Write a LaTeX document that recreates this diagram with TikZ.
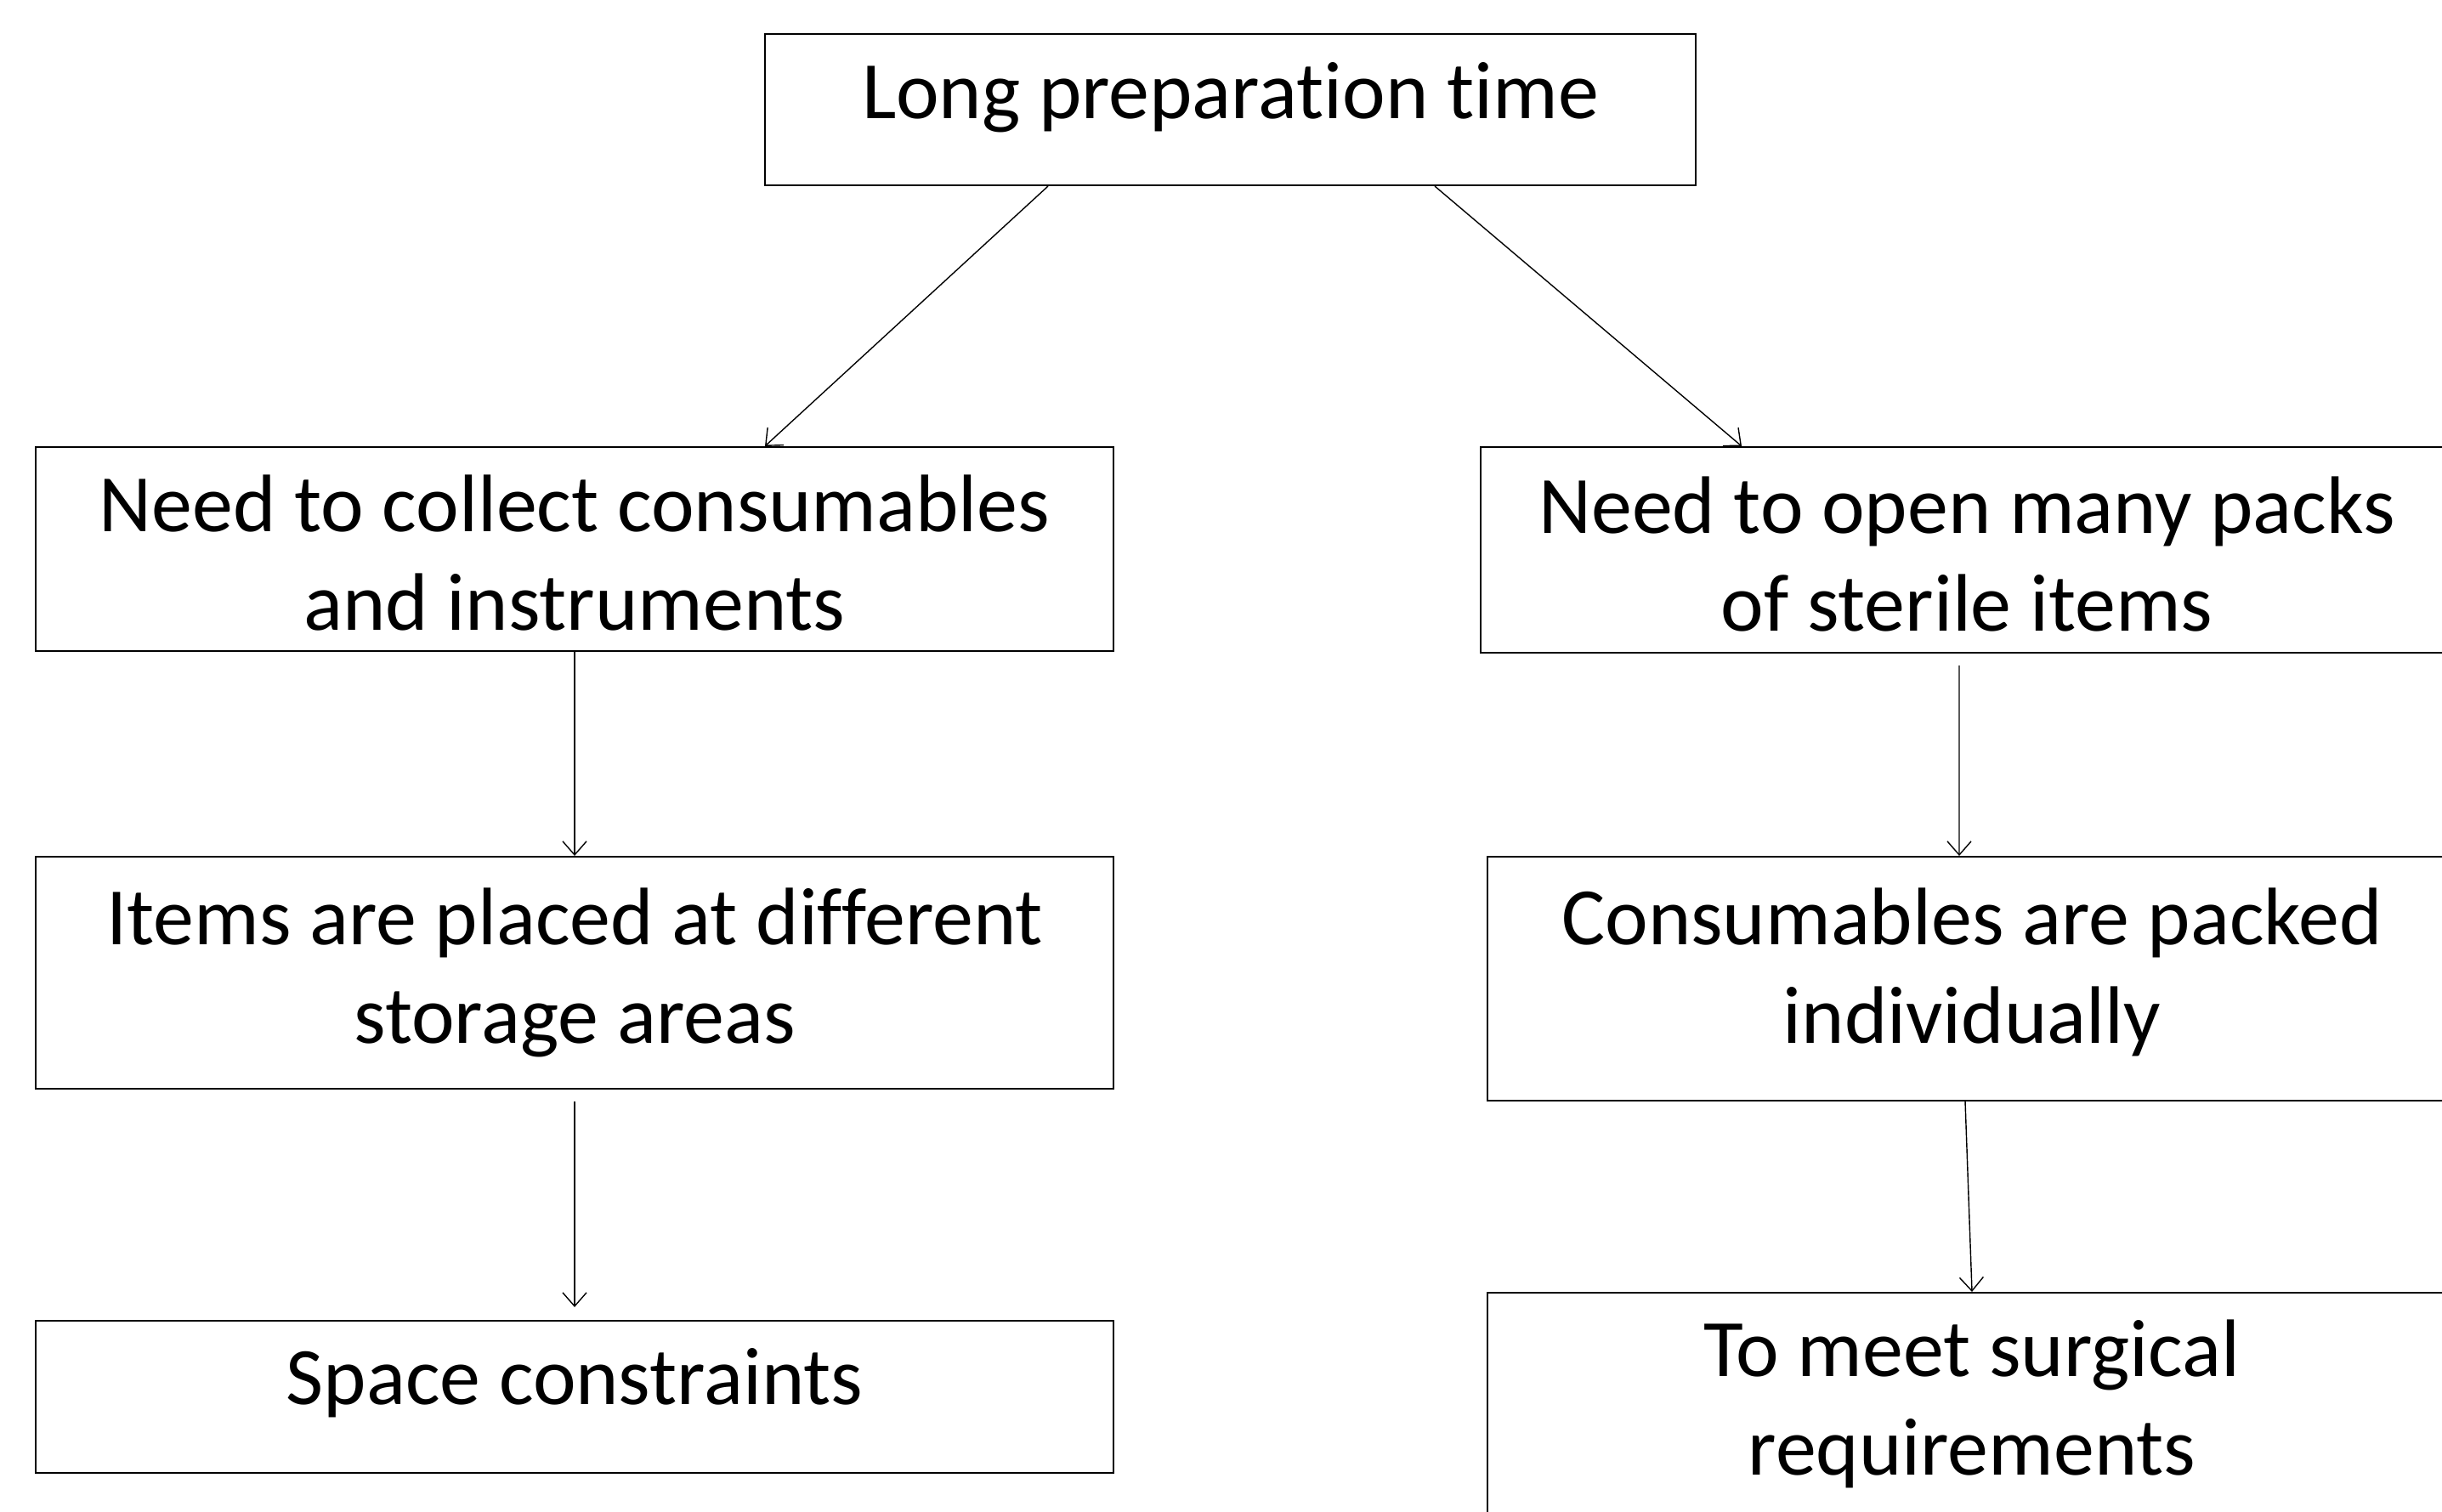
\documentclass[tikz,border=0pt]{standalone}
\usepackage{fontspec}
\setmainfont{Carlito}[Ligatures=NoCommon]
\usetikzlibrary{arrows.meta,
                positioning}

% raise (or lower) the lines of a box without changing the box
\newcommand{\lift}[2]{\raisebox{#1}[\height][\depth]{\begin{tabular}{@{}c@{}}#2\end{tabular}}}

\begin{document}
\begin{tikzpicture}[box/.style = {draw, line width = 0.6pt, align = center, inner sep = 0pt,
                        font = \fontsize{27.3}{32.8}\selectfont},
                    link/.style = {-{Straight Barb[length=1.6mm, width=2.8mm]}, line width = 0.4pt}]
    \useasboundingbox (0,0) rectangle (28.73,17.78);
    \clip (0,0) rectangle (28.73,17.78);

    \node [box, minimum width = 10.95cm, minimum height = 1.78cm] (prep) at (14.475,16.49) {\lift{0.13cm}{Long preparation time}};

    \node [box, minimum width = 12.68cm, minimum height = 2.40cm] (collect) at (6.76,11.32) {\lift{-0.145cm}{Need to collect consumables\\and instruments}};
    \node [box, minimum width = 12.68cm, minimum height = 2.73cm] (places) at (6.76,6.335) {\lift{-0.02cm}{Items are placed at different\\storage areas}};
    \node [box, minimum width = 12.68cm, minimum height = 1.79cm] (space) at (6.76,1.345) {\lift{0.14cm}{Space constraints}};

    \node [box, minimum width = 11.44cm, minimum height = 2.42cm] (packs) at (23.14,11.31) {\lift{-0.15cm}{Need to open many packs\\of sterile items}};
    \node [box, minimum width = 11.40cm, minimum height = 2.87cm] (single) at (23.20,6.265) {\lift{0.05cm}{Consumables are packed\\individually}};
    \node [box, minimum width = 11.40cm, minimum height = 2.79cm] (surgery) at (23.20,1.175) {\lift{0.06cm}{To meet surgical\\requirements}};

    \draw [link] ([xshift=-2.145cm]prep.south) -- ([xshift=2.24cm]collect.north);
    \draw [link] ([xshift=2.405cm]prep.south) -- ([xshift=-2.65cm]packs.north);

    \draw [link] (collect) -- (places);
    \draw [link, shorten <=0.14cm, shorten >=0.15cm] (places) -- (space);

    \draw [link, shorten <=0.14cm] ([xshift=-0.09cm]packs.south) -- ([xshift=-0.15cm]single.north);
    \draw [link] ([xshift=-0.08cm]single.south) -- (surgery.north);
\end{tikzpicture}
\end{document}
